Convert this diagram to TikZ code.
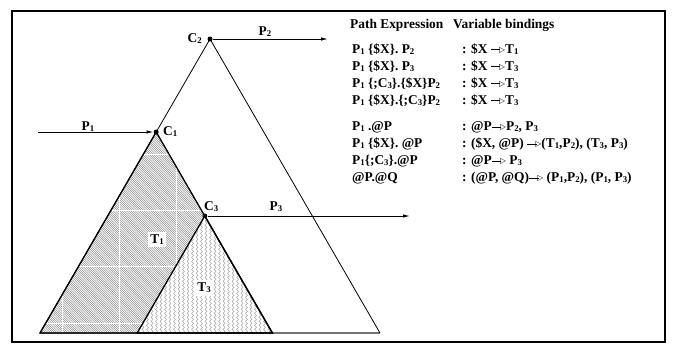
\documentclass[tikz,border=0pt]{standalone}
\usepackage{fontspec}
\setmainfont{Liberation Serif}
\newfontfamily\dejavu{DejaVu Sans}
\usetikzlibrary{arrows.meta,decorations.pathmorphing}
\newcommand\sbs[1]{\raisebox{-0.2ex}{\fontsize{8.8}{8.8}\selectfont #1}}
\newcommand\marr{\rule[3pt]{9.5pt}{0.8pt}\kern-1.2pt\raisebox{0.6pt}{\dejavu\fontsize{7.8}{7.8}\selectfont ▷}}
\begin{document}
\begin{tikzpicture}[x=1pt,y=-1pt,
  font=\fontsize{13.4}{13.4}\selectfont\bfseries,
  frame/.style={line width=2.2pt},
  tri/.style={line width=0.8pt},
  subtri/.style={line width=1.3pt},
  dot/.style={circle,fill,inner sep=0pt,minimum size=5pt},
  arr/.style={line width=0.9pt,-{Latex[length=7pt,width=3.5pt]}},
  txt/.style={inner sep=0pt,anchor=base west},
  lbl/.style={inner sep=0pt,anchor=base},
  hatch/.style={line width=0.35pt,black!55},
  wave/.style={line width=0.35pt,black!45,decorate,decoration={snake,amplitude=1pt,segment length=4pt}},
  grid/.style={line width=0.6pt,white}]
\useasboundingbox (0,0) rectangle (675,346);
% frame
\draw[frame] (12,11) rectangle (665,342);
% key points
\coordinate (bl) at (40,333);
\coordinate (br) at (380,333);
\coordinate (t1r) at (272.4,333);
\coordinate (t3l) at (137.2,333);
\node[dot] (C2) at (210,39) {};
\node[dot] (C1) at (156.2,132) {};
\node[dot] (C3) at (204.8,216) {};
% T1 hatch
\begin{scope}
  \clip (C1.center) -- (bl) -- (t1r) -- cycle;
  \foreach \c in {-300,-297.8,...,150} {\draw[hatch] (\c+120,120) -- (\c+340,340);}
  \foreach \gx in {62,119,176} {\draw[grid] (\gx,120) -- (\gx,340);}
  \foreach \gy in {154,210,266,323} {\draw[grid] (30,\gy) -- (290,\gy);}
\end{scope}
% T3 wavy fill
\fill[white] (C3.center) -- (t3l) -- (t1r) -- cycle;
\begin{scope}
  \clip (C3.center) -- (t3l) -- (t1r) -- cycle;
  \foreach \x in {134,138.5,...,280} {\draw[wave] (\x,210) -- (\x,338);}
\end{scope}
% big triangle
\draw[line width=1.2pt,black!55] (bl) -- (br);
\draw[tri] (bl) -- (C2.center) -- (br);
% sub triangles
\draw[subtri] (C1.center) -- (bl) -- (t1r) -- cycle;
\draw[subtri] (C3.center) -- (t3l) -- (t1r) -- cycle;
% arrows
\coordinate (p1s) at (38,132);
\coordinate (p2e) at (328,39);
\coordinate (p3e) at (410,216);
\draw[arr] (p1s) -- (C1);
\draw[arr] (C2) -- (p2e);
\draw[arr] (C3) -- (p3e);
% labels
\node[lbl,anchor=base east] (lC2) at (202,42.5) {C\sbs2};
\node[lbl] (lP2) at (265,35) {P\sbs2};
\node[lbl] (lP1) at (88,130) {P\sbs1};
\node[txt] (lC1) at (163,135) {C\sbs1};
\node[txt] (lC3) at (204,210) {C\sbs3};
\node[lbl] (lP3) at (276,210) {P\sbs3};
\node[lbl,fill=white,inner sep=2.5pt] (lT1) at (157,243.3) {T\sbs1};
\node[lbl,fill=white,inner sep=2.5pt] (lT3) at (204,291.7) {T\sbs3};
% table
\node[txt] (h1) at (350,28.5) {Path Expression};
\node[txt] (h2) at (453,28.5) {Variable bindings};
\node[txt] (e1) at (352,53) {P\sbs1 \{\$X\}. P\sbs2};
\node[txt] (e2) at (352,70) {P\sbs1 \{\$X\}. P\sbs3};
\node[txt] (e3) at (352,87) {P\sbs1 \{;C\sbs3\}.\{\$X\}P\sbs2};
\node[txt] (e4) at (352,104) {P\sbs1 \{\$X\}.\{;C\sbs3\}P\sbs2};
\node[txt] (e5) at (352,130.5) {P\sbs1 .@P};
\node[txt] (e6) at (352,147.5) {P\sbs1 \{\$X\}. @P};
\node[txt] (e7) at (352,164.5) {P\sbs1\{;C\sbs3\}.@P};
\node[txt] (e8) at (352,181.5) {@P.@Q};
\node[txt] (b1) at (462,53) {: \$X \marr T\sbs1};
\node[txt] (b2) at (462,70) {: \$X \marr T\sbs3};
\node[txt] (b3) at (462,87) {: \$X \marr T\sbs3};
\node[txt] (b4) at (462,104) {: \$X \marr T\sbs3};
\node[txt] (b5) at (462,130.5) {: @P\marr P\sbs2, P\sbs3};
\node[txt] (b6) at (462,147.5) {: (\$X, @P) \marr(T\sbs1,P\sbs2), (T\sbs3, P\sbs3)};
\node[txt] (b7) at (462,164.5) {: @P\marr{} P\sbs3};
\node[txt] (b8) at (462,181.5) {: (@P, @Q)\marr{} (P\sbs1,P\sbs2), (P\sbs1, P\sbs3)};
\end{tikzpicture}
\end{document}
